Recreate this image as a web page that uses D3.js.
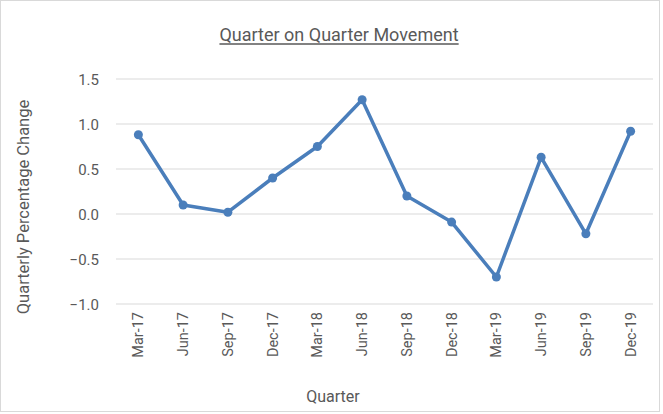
<!DOCTYPE html>
<html>
<head>
<meta charset="utf-8">
<script src="https://cdn.jsdelivr.net/npm/d3@7"></script>
<style>
  html, body { margin: 0; padding: 0; background: #fff; }
  svg { display: block; }
</style>
</head>
<body>
<svg id="chart" width="663" height="414"></svg>
<script>
const quarters = ["Mar-17", "Jun-17", "Sep-17", "Dec-17", "Mar-18", "Jun-18",
  "Sep-18", "Dec-18", "Mar-19", "Jun-19", "Sep-19", "Dec-19"];
const changes = [0.88, 0.10, 0.02, 0.40, 0.75, 1.27, 0.20, -0.09, -0.70, 0.63, -0.22, 0.92];
const yTicks = [-1.0, -0.5, 0.0, 0.5, 1.0, 1.5];

const font = "'Liberation Sans Narrow', 'Arial Narrow', Roboto, sans-serif";
const textColor = "#595959";
const lineColor = "#4a7ebb";

const W = 663, H = 414;
const margin = { top: 79, right: 10, bottom: 110, left: 116 };

const svg = d3.select("#chart").style("font-family", font);

// chart area border
svg.append("rect")
  .attr("x", 0.5).attr("y", 0.5)
  .attr("width", W - 4).attr("height", H - 3)
  .attr("fill", "#fff")
  .attr("stroke", "#d9d9d9");

const x = d3.scaleBand()
  .domain(quarters)
  .range([margin.left, 653]);

const y = d3.scaleLinear()
  .domain([-1.0, 1.5])
  .range([304, margin.top]);

// gridlines
svg.append("g")
  .selectAll("line")
  .data(yTicks)
  .join("line")
  .attr("x1", margin.left).attr("x2", 653)
  .attr("y1", d => y(d)).attr("y2", d => y(d))
  .attr("stroke", "#d9d9d9")
  .attr("stroke-width", 1);

// y axis labels
const yAxis = svg.append("g")
  .attr("transform", `translate(${margin.left - 14},0)`)
  .call(d3.axisLeft(y).tickValues(yTicks).tickFormat(d3.format(".1f")).tickSize(0));
yAxis.select(".domain").remove();
yAxis.selectAll("text")
  .attr("fill", textColor)
  .attr("font-size", "15px")
  .attr("font-family", font)
  .attr("dy", "0.35em");

// x axis labels
const xAxis = svg.append("g")
  .attr("transform", `translate(0,${y(-1.0) + 8})`)
  .call(d3.axisBottom(x).tickSize(0));
xAxis.select(".domain").remove();
xAxis.selectAll("text")
  .attr("fill", textColor)
  .attr("font-size", "14.5px")
  .attr("font-family", font)
  .attr("text-anchor", "end")
  .attr("transform", "rotate(-90)")
  .attr("x", 0)
  .attr("y", 0)
  .attr("dx", 0)
  .attr("dy", "0.35em");

// line
const cx = (d, i) => x(quarters[i]) + x.bandwidth() / 2;
svg.append("path")
  .datum(changes)
  .attr("fill", "none")
  .attr("stroke", lineColor)
  .attr("stroke-width", 3.5)
  .attr("stroke-linejoin", "round")
  .attr("d", d3.line().x(cx).y(d => y(d)));

svg.append("g")
  .selectAll("circle")
  .data(changes)
  .join("circle")
  .attr("cx", cx)
  .attr("cy", d => y(d))
  .attr("r", 4.5)
  .attr("fill", lineColor);

// title
const title = svg.append("text")
  .attr("x", 339).attr("y", 41)
  .attr("text-anchor", "middle")
  .attr("fill", textColor)
  .attr("font-size", "18px")
  .text("Quarter on Quarter Movement");
const tb = title.node().getBBox();
svg.append("line")
  .attr("x1", tb.x).attr("x2", tb.x + tb.width)
  .attr("y1", 44).attr("y2", 44)
  .attr("stroke", textColor)
  .attr("stroke-width", 1.5);

// axis titles
svg.append("text")
  .attr("transform", "translate(29,207) rotate(-90)")
  .attr("text-anchor", "middle")
  .attr("fill", textColor)
  .attr("font-size", "16.5px")
  .text("Quarterly Percentage Change");

svg.append("text")
  .attr("x", 333).attr("y", 402)
  .attr("text-anchor", "middle")
  .attr("fill", textColor)
  .attr("font-size", "16px")
  .text("Quarter");
</script>
</body>
</html>
